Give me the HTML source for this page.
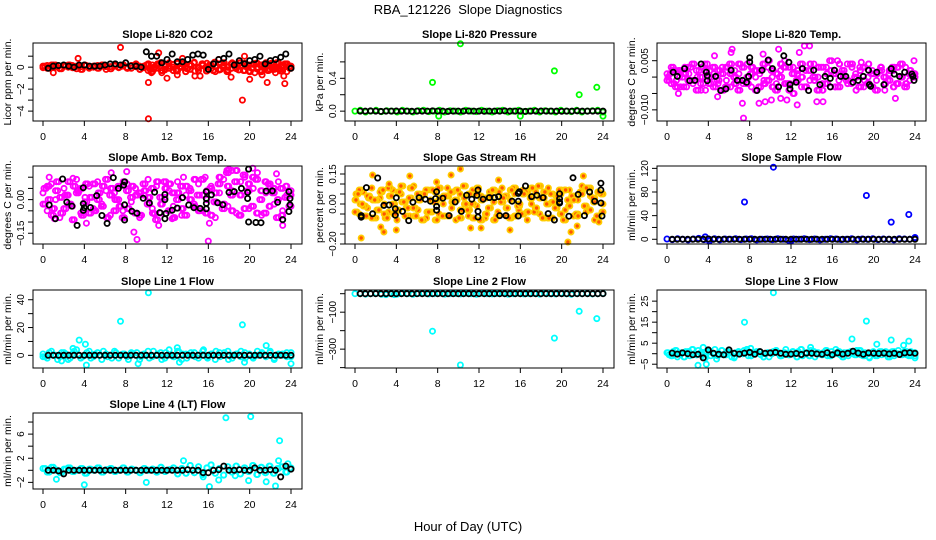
<!DOCTYPE html>
<html><head><meta charset="utf-8">
<style>
html,body{margin:0;padding:0;background:#fff;}
svg{display:block;font-family:"Liberation Sans",Arial,sans-serif;}
</style></head>
<body>
<svg id="chart" width="936" height="540" viewBox="0 0 936 540" xmlns="http://www.w3.org/2000/svg">
<rect width="936" height="540" fill="#fff"/>
<text x="468" y="14" text-anchor="middle" font-size="13">RBA_121226&#160; Slope Diagnostics</text>
<text x="468" y="531" text-anchor="middle" font-size="13">Hour of Day (UTC)</text>
<g id="panels"></g>
</svg>
<script>
// ---------- shared hours ----------
const blackHours = [0.5,1,1.5,2,2.5,3,3.5,4,4.5,5,5.5,6,6.5,7,7.5,8,8.5,9,9.5,10,10.5,11,11.5,12,12.5,13,13.5,14,14.5,15,15.5,16,16.5,17,17.5,18,18.5,19,19.5,20,20.5,21,21.5,22,22.5,23,23.5,24];
const xTicks = [0,4,8,12,16,20,24];

// ---------- Panel 1: CO2 ----------
const co2Black = [-0.1,0.1,0.15,0.2,0.1,0,0.2,0.2,0.1,0.1,0.1,0.2,0.3,0.3,0.2,0.4,0.1,0.1,0,1.4,1,1,0.4,0.7,1.2,0.5,0.5,0.7,1.1,1.2,1.1,-0.2,0.3,0.7,0.8,1.2,0.2,0.6,0.3,0.6,0.7,1,0.3,0.6,0.7,0.9,1.2,-0.1];
const co2CloudA = [0.1,-0.1,0.2,0,-0.15,0.1,0.2,-0.05,0.1,-0.2,0.15,0,0.1,-0.1,0.2,0.05,-0.15,0.1,0,0.2,-0.1,0.15,0.05,-0.2,0.1,0.3,-0.4,0.2,0.4,-0.2,0.1,-0.3,0.35,0,-0.4,0.25,0.4,-0.1,0.3,-0.35,0.2,0.45,-0.25,0.1,-0.4,0.3,0,0.4,-0.3,0.2,-0.1,0.35,-0.4,0.25,0.1,-0.2,0.4,-0.35,0.3,0];
const co2CloudB = [-0.05,0.15,0,0.2,-0.1,0.1,0,0.15,-0.15,0.05,0.2,-0.1,0,0.15,0.1,-0.2,0.05,0.2,-0.05,0.1,0,-0.1,0.2,0.1,-0.05,-0.3,0.2,-0.1,0.35,-0.25,0.4,0,-0.35,0.3,0.1,-0.2,0.45,-0.3,0.15,0.35,-0.1,-0.4,0.3,0.2,-0.25,0.4,-0.15,0.1,0.35,-0.35,0.25,0,-0.3,0.4,-0.2,0.3,-0.1,0.2,-0.4,0.1];
const co2CloudC = [0.2,-0.2,0,0.3,-0.3,0.1,-0.1,0.25,-0.25,0.05,0.35,-0.15,0.15,-0.35,0,0.3,-0.05,0.2,-0.3,0.1,-0.2,0.4,0,-0.1,0.25,-0.25,0.15,0.05,-0.4,0.3,-0.15,0.2,0.1,-0.3,0.35,0,-0.2,0.15,0.3,-0.1];
const co2OutX = [7.5,3.4,1,10.2,10.2,11.2,12,13,14.7,15.2,18.2,19.3,19.5,20,21.2,21.7,23.3,23.4,11.5,13.5,17,20.5,22.5,9,10.5];
const co2OutY = [1.8,0.8,-0.5,-1.4,-4.7,1.3,-1,-0.7,-0.8,-0.8,-0.9,-3,1,-1.1,-0.7,-1.4,-0.8,-1.5,-0.5,0.8,0.7,-0.5,-0.5,0.3,-0.5];

// ---------- Panel 2: Pressure ----------
const presBlack = [0,0,0.003,0,-0.003,0,0,0.002,0,0,-0.002,0,0,0,0.003,0,0,-0.003,0,0,0,0.002,0,0,-0.002,0,0,0,0.003,0,0,0,-0.003,0,0,0.002,0,0,0,-0.002,0,0,0.003,0,0,0,0,0];
const presCloudA = [0,0.01,-0.01,0,0.01,-0.005,0.005,0,-0.01,0.01,0,-0.01,0.005,0.01,-0.005,0,0.01,-0.01,0.005,0,-0.01,0.01,0,-0.005,0.01,0,-0.01,0.005,0.01,-0.01,0,0.01,-0.005,0,0.01,-0.01,0.005,0,-0.01,0.01,0,-0.005,0.01,-0.01,0,0.005,0.01,-0.01];
const presOutX = [7.5,10.2,19.3,21.7,23.4,8.1,16,24];
const presOutY = [0.35,0.82,0.49,0.2,0.29,-0.06,-0.06,-0.06];

// ---------- Panel 3: Li-820 Temp ----------
const tempBlackX = [0.6,1.0,1.7,2.2,2.7,3.3,3.8,3.9,3.9,4.7,5.2,5.7,6.2,6.8,7.3,7.7,7.9,8.0,8.0,8.7,9.2,9.8,10.2,10.8,11.3,11.8,11.9,11.9,12.5,13.1,13.7,14.2,14.8,15.3,15.8,15.8,16.2,16.8,17.3,18.0,18.5,19.0,19.5,19.6,19.7,20.3,21.0,21.7,22.0,22.5,23.0,23.7,23.8,23.9];
const tempBlackY = [0.0015,0.0002,0.0026,-0.0011,-0.001,0.004,0.0015,0.0004,-0.0011,0.0002,-0.0041,-0.0036,0.0021,-0.001,-0.001,-0.0016,0.0002,0.0059,0.0046,-0.0041,0.0021,0.0052,0.0026,-0.003,0.0065,0.0045,-0.0023,-0.0036,-0.0016,0.0026,-0.0041,0.0021,-0.0023,0.0002,-0.0004,-0.003,0.0021,0.0002,0.0002,-0.0016,-0.001,0.0002,0.0021,-0.0023,-0.0028,0.0015,-0.0023,0.0026,0.0009,0.0002,0.0015,0.0009,0.0002,-0.001];
const tempCloudA = [0.001,-0.002,0.002,0,-0.003,0.003,-0.001,0.002,-0.002,0.004,0,-0.003,0.002,-0.004,0.003,0.001,-0.002,0.004,-0.001,0,0.003,-0.004,0.002,-0.002,0.005,-0.003,0.001,0.004,-0.002,0.003,-0.005,0.002,0,-0.003,0.004,-0.001,0.003,-0.004,0.001,0.002,-0.003,0.004,0,-0.002,0.003,-0.004,0.002,-0.001,0.004,-0.003,0.001,0.003,-0.002,0.002,-0.003,0.003,0,-0.002,0.002,0.001];
const tempCloudB = [-0.001,0.003,-0.003,0.002,0.001,-0.001,0.004,-0.004,0,0.002,-0.002,0.003,-0.001,0.001,-0.003,0.004,0,-0.004,0.003,-0.002,0.001,0.002,-0.003,0.004,-0.001,0.002,-0.004,0,0.003,-0.002,0.001,-0.001,0.004,-0.003,0.002,0,-0.004,0.003,-0.002,0.005,0.001,-0.003,0.002,-0.001,0.004,0,-0.003,0.003,-0.002,0.001,-0.004,0.002,0,-0.001,0.003,-0.002,0.004,-0.003,0.001,0];
const tempCloudC = [0,0.002,-0.001,-0.003,0.003,0.001,-0.002,0,0.003,-0.004,0.002,0.001,-0.002,0.003,-0.001,-0.003,0.002,0.001,-0.002,0.004,-0.003,0,0.001,-0.001,0.003,0,-0.002,0.002,0.005,-0.004,0.003,0.001,-0.003,0.002,-0.001,0.004,0,-0.002,0.003,-0.003,0.002,-0.001,0.001,0.004,-0.002,0.001,0.003,-0.003,0,0.002,-0.001,0.003,-0.004,0.001,0.002,-0.002,0,0.003,-0.001,0.001];
const tempOutX = [7.4,7.3,8.9,9.5,12.6,14.5,15.1,22.1,4.9,6.3,6.2,10.8,12.8,13.3,13.8,9.3,16.5,23.9,1.1,10.1,11.6,3.3,4.6,11.0,18.8];
const tempOutY = [-0.0125,-0.008,-0.008,-0.0075,-0.0085,-0.0075,-0.0075,-0.0065,-0.006,0.0085,0.0075,0.0085,0.0075,0.0095,0.0095,0.007,0.005,0.005,-0.005,-0.007,-0.007,-0.004,0.0065,-0.0065,0.0045];

// ---------- Panel 4: Amb. Box Temp ----------
const ambBlackX = [0.6,1.2,1.9,2.3,2.8,3.3,3.9,3.9,4.0,3.9,4.6,5.2,5.7,6.2,6.8,7.3,7.8,7.9,7.9,7.9,8.6,9.1,9.7,10.3,10.8,11.3,11.8,11.8,11.9,11.8,12.5,13.0,13.5,14.1,14.6,15.2,15.8,15.8,15.8,15.8,16.3,16.9,17.4,18.0,18.5,19.2,19.8,19.8,19.9,19.9,20.6,21.1,21.6,22.2,22.7,23.2,23.8,23.9,23.9,23.8];
const ambBlackY = [-0.024,-0.085,0.092,-0.011,-0.029,-0.115,0.053,-0.018,-0.036,-0.048,-0.035,0.018,-0.071,-0.106,0.098,0.05,0.065,0.079,-0.023,-0.091,-0.052,-0.061,0.006,-0.015,0.033,-0.058,0,0.023,-0.062,-0.085,-0.047,-0.038,0.009,-0.024,-0.036,-0.039,-0.041,-0.017,0.005,0.036,0.021,-0.014,-0.023,0.032,0.036,0.05,0.032,0.005,0.136,-0.1,-0.102,-0.103,0.038,0.039,-0.012,-0.089,0.036,0.005,-0.023,-0.053];
const ambCloudA = [0.03,-0.05,0.07,0,-0.08,0.05,0.02,-0.03,0.09,-0.06,0.01,0.06,-0.04,0.08,-0.02,0.04,-0.07,0.03,0,-0.05,0.07,-0.01,0.05,-0.08,0.02,0.09,-0.04,0.06,-0.06,0.01,0.04,-0.03,0.08,-0.07,0.02,0.05,-0.02,0.07,-0.05,0,0.06,-0.08,0.03,0.09,-0.03,0.04,-0.06,0.08,0.1,-0.04,0.05,0.12,-0.07,0.03,0.06,-0.02,0.08,-0.05,0.02,0.04];
const ambCloudB = [-0.02,0.06,-0.07,0.04,0.01,-0.04,0.08,-0.09,0.03,0.05,-0.01,-0.06,0.07,0,-0.03,0.09,0.02,-0.05,0.06,-0.08,0.04,0.01,-0.06,0.03,0.07,-0.02,0.05,-0.09,0.01,0.08,-0.05,0.03,0,0.06,-0.07,0.04,-0.03,0.02,0.09,-0.06,0.05,-0.01,0.07,-0.04,0.12,0.02,0.08,-0.07,0.11,0.04,-0.03,0.09,0,-0.06,0.07,0.03,-0.08,0.05,0.01,-0.03];
const ambCloudC = [0.05,0,-0.04,0.08,-0.06,0.02,-0.02,0.06,0.04,-0.07,0.07,0.01,-0.05,0.03,0.06,-0.08,0.05,0,-0.03,0.08,-0.04,0.06,0.02,-0.07,0.04,0.01,-0.06,0.08,-0.02,0.05,0.07,-0.08,0.03,-0.04,0.06,0,0.09,-0.05,0.02,0.04,-0.07,0.03,0.1,-0.02,0.06,-0.05,0.13,0.02,-0.04,0.07,0.1,-0.06,0.04,0.08,-0.03,0.05,0,-0.07,0.06,0.02];
const ambOutX = [8.8,9.1,16.0,18.0,18.3,17.8,20.3,6.6,8.1,10.8,11.2,16.1,0.6,2.9,13.6,15.7,22.6,1.1,4.2,12.5,19.1,23.2];
const ambOutY = [-0.145,-0.178,-0.185,0.135,0.13,0.13,0.14,0.12,0.125,-0.065,-0.115,-0.105,0.1,0.095,0.1,0.1,0.115,-0.085,-0.105,-0.085,-0.07,-0.115];

// ---------- Panel 5: Gas Stream RH ----------
const rhBlackX = [0.6,0.6,1.1,1.7,2.2,2.8,3.3,3.9,3.9,4.0,4.6,5.2,5.6,6.2,6.8,7.3,7.8,7.9,7.9,7.9,8.5,9.1,9.7,10.3,10.8,11.3,11.8,11.9,11.9,11.9,12.4,13.0,13.5,13.9,14.0,14.6,15.2,15.8,15.9,15.8,15.8,16.5,17.1,17.6,18.2,18.7,19.3,19.8,19.8,19.8,19.8,20.7,21.1,21.6,22.2,22.7,23.2,23.8,23.8,23.8,23.9];
const rhBlackY = [-0.066,-0.058,0.082,-0.049,0.13,-0.007,-0.005,-0.024,-0.056,0.031,-0.037,-0.083,0.009,0.032,0.024,0.014,0.027,0.061,-0.012,-0.031,0.029,-0.058,0.01,-0.037,0.044,0.024,0.043,0.07,-0.037,-0.065,0.024,0.032,0.032,0.037,-0.058,-0.058,0.014,0.014,0.061,0.053,-0.06,0.09,0.037,0.044,0.032,-0.048,-0.08,0.051,0.026,0.01,0.005,-0.061,0.131,0.048,-0.058,0.06,0.014,0.07,0.104,0.005,-0.06];
const rhCloudA = [0.02,-0.05,0.06,-0.02,0.08,-0.07,0.03,0,-0.04,0.07,-0.08,0.05,0.01,-0.06,0.09,-0.03,0.04,-0.07,0.02,0.06,-0.05,0,0.08,-0.02,-0.08,0.05,0.03,-0.06,0.07,-0.01,0.04,-0.07,0.06,0.01,-0.04,0.08,-0.06,0.02,0.05,-0.03,0.07,-0.08,0,0.06,-0.05,0.03,0.08,-0.07,0.01,0.05,-0.03,0.07,-0.06,0.02,0.09,-0.04,0.04,-0.08,0.06,0];
const rhCloudB = [-0.04,0.07,-0.01,0.04,-0.07,0.02,0.06,-0.05,0.08,0,-0.03,0.09,-0.06,0.03,-0.02,0.05,-0.08,0.07,-0.04,0.01,0.08,-0.06,0.04,0.06,0.02,-0.07,0.09,-0.03,0,0.05,-0.08,0.03,-0.02,0.07,-0.06,0.01,0.04,-0.07,0.08,-0.01,-0.05,0.06,0.03,-0.04,0.09,-0.07,0,0.05,-0.02,0.07,-0.08,0.02,0.04,-0.05,0.06,-0.01,0.08,0.03,-0.06,0.05];
const rhCloudC = [0.05,0,-0.06,0.03,0.02,-0.03,0.07,-0.07,0.04,-0.05,0.06,0.01,-0.02,0.08,-0.06,0.02,0.05,-0.04,0.07,-0.08,0.03,0.04,-0.06,0.01,0.07,-0.03,0,0.05,-0.07,0.08,0.02,-0.05,0.04,-0.08,0.06,0.03,-0.02,0.07,-0.06,0,0.05,-0.04,0.08,-0.02,0.03,0.06,-0.07,0.01,0.04,-0.05,0.07,-0.01,0.02,-0.06,0.05,0.08,-0.03,0.01,0.06,-0.04];
const rhOutX = [0.6,1.7,2.5,2.8,4.0,5.3,9.3,10.2,20.6,20.9,22.1,15.0,11.2,12.2,7.9,0.1,3.3,13.9,21.5,23.6];
const rhOutY = [-0.17,0.145,-0.115,-0.14,-0.13,0.14,0.145,0.175,-0.19,-0.14,0.14,-0.13,-0.12,-0.12,0.11,0.02,0.1,0.12,-0.11,-0.09];

// ---------- Panel 6: Sample Flow ----------
const sfBlack = [0,0,0,0,0,0,0,0.5,0,0,0,0,0,0,0,0,0,0,0,0,0,0,0,0,0,0,0,0,0,0,0,0,0,0,0,0,0,0,0,0,0,0,0,0,0,0,0,0];
const sfCloudA = [0.5,-0.5,1,0,-1,0.5,1.5,-0.5,0,1,-1,0.5,0,1,-0.5,0.5,1,-1,0,0.5,-0.5,1,0,-1.5,0.5,0,1,-0.5,0.5,-1,0,1,0.5,-0.5,0,1,-1,0.5,0,1,-0.5,0.5,0,-1,1,0.5,0,1.5];
const sfOutX = [7.5,10.3,19.3,21.7,23.4,3.7,4.1,12,24];
const sfOutY = [63,122,74,29,42,4,-3,-3,3];

// ---------- Panel 7: Line 1 Flow ----------
const l1Black = [0,0,0,0,0,0,0,0,0,0,0,0,0,0,0,0,0,0,0,0,0,0,0,0,0,0,0,0,0,0,0,0,0,0,0,0,0,0,0,0,0,0,0,0,0,0,0,0];
const l1CloudA = [1,-2,3,0,-1,2,-3,1,4,-2,0,3,-1,2,-3,1,0,3,-2,1,-1,2,0,-3,1,3,-1,0,2,-2,4,-1,3,-3,1,0,2,-2,3,-1,1,-3,2,0,3,-2,1,-1,2,0,-2,3,1,-1,2,-3,0,1,-1,2];
const l1CloudB = [-1,2,0,-3,2,1,-2,3,0,-1,2,-2,1,0,3,-1,-2,2,0,1,-3,1,2,-1,0,-2,3,1,-3,2,0,-1,3,1,-2,2,-1,0,4,-2,1,3,-1,2,-3,0,1,3,-2,1,-1,0,2,-1,3,-2,1,0,2,-1];
const l1OutX = [0,3.5,4.1,4.2,7.5,10.2,19.3,21.6,24,9.2,13.2,19.5,2.9,13,1.8];
const l1OutY = [-1,11,8,-7,24.5,45,22,7,-6,-6,-5,-5,5,5.5,-4];

// ---------- Panel 8: Line 2 Flow ----------
const l2Black = [0,0,0,0,0,0,0,0,0,0,0,0,0,0,0,0,0,0,0,0,0,0,0,0,0,0,0,0,0,0,0,0,0,0,0,0,0,0,0,0,0,0,0,0,0,0,0,0];
const l2CloudA = [0,2,-2,0,3,-3,1,0,-2,2,0,-3,1,2,-1,0,3,-2,0,1,-1,2,0,-3,2,0,-1,1,3,-2,0,2,-1,0,1,-2,3,0,-1,2,0,-3,1,0,2,-1,0,1];
const l2OutX = [7.5,10.2,19.3,21.7,23.4,3,3.8];
const l2OutY = [-203,-386,-240,-95,-135,-5,-5];

// ---------- Panel 9: Line 3 Flow ----------
const l3Black = [0.3,-0.2,0.4,0,-0.5,-0.3,-2,1.8,0.2,-0.3,-0.5,1.8,0.2,-0.2,0.3,0.6,-0.3,1,0.2,0.4,0.6,0.2,-0.3,-0.2,0.1,-0.4,0.3,0.2,-0.1,-0.3,0.5,-0.5,0.4,-0.2,0.2,1.2,0.3,-0.3,0.4,0.2,0.1,0.3,-0.1,0.2,-0.4,0.4,0.5,0.2];
const l3CloudA = [0.5,-1,1.5,0,-1.5,1,2,-0.5,0.5,-2,1,0,-1,1.5,-0.5,0.5,-1.5,1,0,2,-1,0.5,1,-1.5,0.5,0,1.5,-1,0.5,-0.5,1,-1.5,2,0,-1,1,0.5,-0.5,1.5,-1,0,1,-1.5,0.5,1,-0.5,1.5,-1,0,0.5,-1,1,0.5,-1.5,1,0,-0.5,1,-1,0.5];
const l3CloudB = [-0.5,1,-1.5,0.5,1,-1,0,1.5,-0.5,1,-1,2,0,-0.5,1,-1.5,0.5,0,1.5,-1,0.5,1,-0.5,0,-1.5,1,0.5,-1,2,-0.5,0,1,-1,0.5,1.5,-1.5,0,0.5,-1,1,2,-0.5,0.5,-1,0,1.5,-0.5,0.5,-1.5,1,0,-0.5,1,0.5,-1,1.5,0,-0.5,1,-1];
const l3OutX = [3,3.8,7.5,10.3,17.9,19.3,20.3,21.7,22.9,23.4,24,8.1,13.9,3.5,19.6,4.8,6.5];
const l3OutY = [-5.5,-5,15,29,7,15.5,4.5,6.5,4,6,-2,2.5,3,3,-2,-2.5,-2];

// ---------- Panel 10: Line 4 (LT) Flow ----------
const l4Black = [0,0,-0.1,-0.6,0,0,0,0,0,0,0,0,0,0,0,0,0,0,0,0,0,0,0,0,0,0,0,0.1,0,0,-0.4,-0.4,0,0.1,0.7,0,0,0.1,0,0,0.4,0,0,0.1,0,-1.1,0.7,0.2];
const l4CloudA = [0.3,-0.3,0.5,0,-0.4,0.2,0.4,-0.2,0,0.3,-0.5,0.2,0,0.4,-0.3,0.1,0.3,-0.2,0,0.4,-0.3,0.2,0,-0.4,0.3,0,0.2,-0.3,0.5,-0.2,0.1,0.4,-0.6,0.3,-0.5,0.8,-0.4,0.6,-0.7,0.4,0.9,-0.5,0.3,-0.8,0.6,-0.3,0.7,-0.6,0.4,-0.2,0.8,-0.7,0.5,-0.4,0.7,-0.5,0.3,0.6,-0.3,0.4];
const l4OutX = [17.7,20.1,22.9,4,10,16.1,21.6,22.5,19.9,17,13.6,22.8,23.7,1.3,15.5,18.6];
const l4OutY = [8.7,8.9,4.9,-2.4,-2,-2.7,-1.9,-2.6,-1.7,-1.6,1.6,1.6,1.1,-1.5,-1.1,-0.9];

// ---------- Tick arrays ----------
const p1Ticks=[-4,-3,-2,-1,0,1], p1Labels=["−4","","−2","","0",""];
const p2Ticks=[0,0.2,0.4,0.6], p2Labels=["0.0","","0.4",""];
const p3Ticks=[-0.01,-0.005,0,0.005], p3Labels=["−0.010","","","0.005"];
const p4Ticks=[-0.15,-0.1,-0.05,0,0.05,0.1], p4Labels=["−0.15","","","0.00","",""];
const p5Ticks=[-0.2,-0.15,-0.1,-0.05,0,0.05,0.1,0.15], p5Labels=["−0.20","","","","0.00","","","0.15"];
const p6Ticks=[0,20,40,60,80,100,120], p6Labels=["0","","40","","80","","120"];
const p7Ticks=[0,10,20,30,40], p7Labels=["0","","20","","40"];
const p8Ticks=[-400,-300,-200,-100,0], p8Labels=["","−300","","−100",""];
const p9Ticks=[-5,0,5,10,15,20,25], p9Labels=["−5","","5","","15","","25"];
const p10Ticks=[-2,0,2,4,6,8], p10Labels=["−2","","2","","6",""];

const RED="#ff0000",GRN="#00ff00",MAG="#ff00ff",ORG="#ffcc00",BLU="#0000ff",CYA="#00ffff";
const panels = [
 {id:"co2",title:"Slope Li-820 CO2",ylab:"Licor ppm per min.",col:0,row:0,ymin:-4.9,ymax:2.2,ticks:p1Ticks,labels:p1Labels,color:RED,
  clouds:[[co2CloudA,0,24],[co2CloudB,0,24],[co2CloudC,10,24],[co2CloudC,10.15,23.85],[co2CloudA,0.2,23.8]],outX:co2OutX,outY:co2OutY,bx:blackHours,by:co2Black},
 {id:"pressure",title:"Slope Li-820 Pressure",ylab:"kPa per min.",col:1,row:0,ymin:-0.12,ymax:0.83,ticks:p2Ticks,labels:p2Labels,color:GRN,
  clouds:[[presCloudA,0,24]],outX:presOutX,outY:presOutY,bx:blackHours,by:presBlack},
 {id:"li820-temp",title:"Slope Li-820 Temp.",ylab:"degrees C per min.",col:2,row:0,ymin:-0.0134,ymax:0.0104,ticks:p3Ticks,labels:p3Labels,color:MAG,
  clouds:[[tempCloudA,0,24],[tempCloudB,0.2,24],[tempCloudC,0.1,23.9],[tempCloudB,0,23.8],[tempCloudA,0.3,23.9]],outX:tempOutX,outY:tempOutY,bx:tempBlackX,by:tempBlackY},
 {id:"amb-box-temp",title:"Slope Amb. Box Temp.",ylab:"degrees C per min.",col:0,row:1,ymin:-0.198,ymax:0.15,ticks:p4Ticks,labels:p4Labels,color:MAG,
  clouds:[[ambCloudA,0,24],[ambCloudB,0.2,24],[ambCloudC,0.1,23.9],[ambCloudB,0,23.8],[ambCloudC,0.3,24]],outX:ambOutX,outY:ambOutY,bx:ambBlackX,by:ambBlackY},
 {id:"gas-stream-rh",title:"Slope Gas Stream RH",ylab:"percent per min.",col:1,row:1,ymin:-0.2,ymax:0.19,ticks:p5Ticks,labels:p5Labels,color:ORG,fill:"#ff5500",
  clouds:[[rhCloudA,0,24],[rhCloudB,0.2,24],[rhCloudC,0.1,23.9],[rhCloudB,0,23.8],[rhCloudC,0.3,24]],outX:rhOutX,outY:rhOutY,bx:rhBlackX,by:rhBlackY},
 {id:"sample-flow",title:"Slope Sample Flow",ylab:"ml/min per min.",col:2,row:1,ymin:-8,ymax:124,ticks:p6Ticks,labels:p6Labels,color:BLU,
  clouds:[[sfCloudA,0,24]],outX:sfOutX,outY:sfOutY,bx:blackHours,by:sfBlack},
 {id:"line1-flow",title:"Slope Line 1 Flow",ylab:"ml/min per min.",col:0,row:2,ymin:-9.1,ymax:47,ticks:p7Ticks,labels:p7Labels,color:CYA,
  clouds:[[l1CloudA,0,24],[l1CloudB,0.2,24]],outX:l1OutX,outY:l1OutY,bx:blackHours,by:l1Black},
 {id:"line2-flow",title:"Slope Line 2 Flow",ylab:"ml/min per min.",col:1,row:2,ymin:-402,ymax:20,ticks:p8Ticks,labels:p8Labels,color:CYA,
  clouds:[[l2CloudA,0,24]],outX:l2OutX,outY:l2OutY,bx:blackHours,by:l2Black},
 {id:"line3-flow",title:"Slope Line 3 Flow",ylab:"ml/min per min.",col:2,row:2,ymin:-6.8,ymax:30.3,ticks:p9Ticks,labels:p9Labels,color:CYA,
  clouds:[[l3CloudA,0,24],[l3CloudB,0.2,24],[l3CloudA,0.1,23.8]],outX:l3OutX,outY:l3OutY,bx:blackHours,by:l3Black},
 {id:"line4-flow",title:"Slope Line 4 (LT) Flow",ylab:"ml/min per min.",col:0,row:3,ymin:-3.1,ymax:9.5,ticks:p10Ticks,labels:p10Labels,color:CYA,
  clouds:[[l4CloudA,0,24],[l4CloudA,0.2,23.9]],outX:l4OutX,outY:l4OutY,bx:blackHours,by:l4Black}
];

const NS="http://www.w3.org/2000/svg";
const colLeft=[33,345,657], rowTop=[43,166,290,413], BW=269, BH=78;
const root=document.getElementById("panels");
function mk(tag,attrs,parent){const e=document.createElementNS(NS,tag);for(const k in attrs)e.setAttribute(k,attrs[k]);parent.appendChild(e);return e;}

panels.forEach(p=>{
  const L=colLeft[p.col], T=rowTop[p.row], H=(p.row===3?76:BH), B=T+H;
  const xs=h=>L+10+h*(248/24);
  const ys=v=>T+(p.ymax-v)/(p.ymax-p.ymin)*H;
  const g=mk("g",{},root);
  
  
  const t=mk("text",{x:L+BW/2,y:T-5,"text-anchor":"middle","font-size":"11","font-weight":"bold"},g);
  t.textContent=p.title;
  
  
  const yl=mk("text",{transform:`translate(${L-22},${T+H/2}) rotate(-90)`,"text-anchor":"middle","font-size":"10.5"},g);
  yl.textContent=p.ylab;
  
  
  const pts=mk("g",{fill:"none"},g);
  
  
  const dot=(h,v,stroke,fill,nm)=>{
    const c=mk("circle",{cx:xs(h).toFixed(1),cy:ys(v).toFixed(1),r:"2.6",stroke:stroke,"stroke-width":"1.8",fill:fill||"none"},pts);
    
    
  };
  p.clouds.forEach(cl=>{
    const vals=cl[0], s=cl[1], e=cl[2];
    vals.forEach((v,i)=>dot(s+i*(e-s)/(vals.length-1),v,p.color,p.fill,'slope-point'));
  });
  p.outX.forEach((h,i)=>dot(h,p.outY[i],p.color,p.fill,'outlier-point'));
  p.bx.forEach((h,i)=>dot(h,p.by[i],"#000",null,'mean-point'));
  const box=mk("rect",{x:L,y:T,width:BW,height:H,fill:"none",stroke:"#000","stroke-width":"1"},g);
  
  
  p.ticks.forEach((v,i)=>{
    const y=ys(v);
    const tk=mk("line",{x1:L-5,x2:L,y1:y,y2:y,stroke:"#000"},g);
    
    
    if(p.labels[i]){
      const tl=mk("text",{transform:`translate(${L-9},${y}) rotate(-90)`,"text-anchor":"middle","font-size":"10"},g);
      tl.textContent=p.labels[i];
      
      
    }
  });
  xTicks.forEach(h=>{
    const x=xs(h);
    const tk=mk("line",{x1:x,x2:x,y1:B,y2:B+5,stroke:"#000"},g);
    
    
    const tl=mk("text",{x:x,y:B+19,"text-anchor":"middle","font-size":"10.5"},g);
    tl.textContent=String(h);
    
    
  });
});
</script>
</body></html>
